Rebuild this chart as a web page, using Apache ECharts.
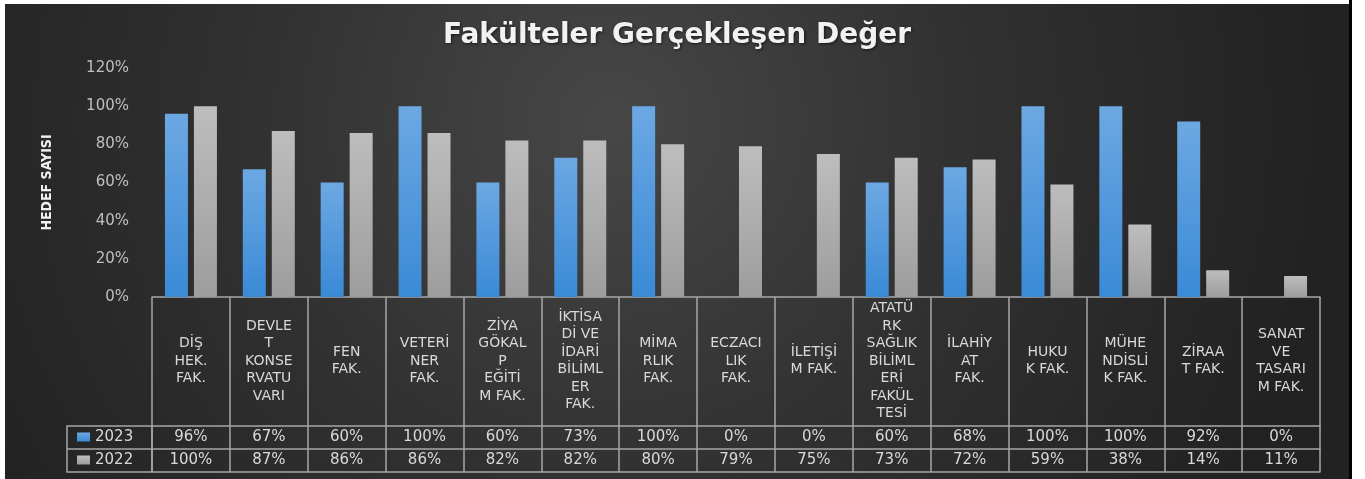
<!DOCTYPE html>
<html>
<head>
<meta charset="utf-8">
<script src="https://cdn.jsdelivr.net/npm/echarts@6/dist/echarts.min.js"></script>
<style>
    html, body { margin: 0; padding: 0; background: #fff; }
    #chart_box { position: absolute; left: 5px; top: 4px; width: 1344px; height: 475px; }
    #frame_right { position: absolute; left: 1349px; top: 0; width: 3px; height: 479px; background: #000; }
</style>
</head>
<body>
<div id="chart_box"></div>
<div id="frame_right"></div>
<script>
// fakülte adları (resimdeki satır kırılımlarıyla)
var categories = [
    'DİŞ\nHEK.\nFAK.',
    'DEVLE\nT\nKONSE\nRVATU\nVARI',
    'FEN\nFAK.',
    'VETERİ\nNER\nFAK.',
    'ZİYA\nGÖKAL\nP\nEĞİTİ\nM FAK.',
    'İKTİSA\nDİ VE\nİDARİ\nBİLİML\nER\nFAK.',
    'MİMA\nRLIK\nFAK.',
    'ECZACI\nLIK\nFAK.',
    'İLETİŞİ\nM FAK.',
    'ATATÜ\nRK\nSAĞLIK\nBİLİML\nERİ\nFAKÜL\nTESİ',
    'İLAHİY\nAT\nFAK.',
    'HUKU\nK FAK.',
    'MÜHE\nNDİSLİ\nK FAK.',
    'ZİRAA\nT FAK.',
    'SANAT\nVE\nTASARI\nM FAK.'
];
var values_2023 = [96, 67, 60, 100, 60, 73, 100, 0, 0, 60, 68, 100, 100, 92, 0];
var values_2022 = [100, 87, 86, 86, 82, 82, 80, 79, 75, 73, 72, 59, 38, 14, 11];
var y_ticks = [0, 20, 40, 60, 80, 100, 120];

var line_color = '#a6a6a6';
var text_color = '#d9d9d9';
var font = "'DejaVu Sans', sans-serif";

function pct(v){
    return v + '%';
}

// tablo satırları için ek x eksenleri
function table_row(labels, offset, tick_len, show_labels){
    return {
        type: 'category',
        position: 'bottom',
        offset: offset,
        data: labels,
        axisLine: { show: true, lineStyle: { color: line_color, width: 1.5 } },
        axisTick: { show: tick_len > 0, length: tick_len, lineStyle: { color: line_color, width: 1.5 } },
        axisLabel: {
            show: show_labels,
            interval: 0,
            margin: 11.5,
            verticalAlign: 'middle',
            color: text_color,
            fontSize: 15,
            fontFamily: font
        },
        splitLine: { show: false }
    };
}

var chart = echarts.init(document.getElementById('chart_box'));
var option = {};

option['backgroundColor'] = {
    type: 'radial', x: 0.45, y: 0.25, r: 1.5,
    colorStops: [
        { offset: 0, color: '#474747' },
        { offset: 0.5, color: '#313131' },
        { offset: 1, color: '#222222' }
    ]
};

option['title'] = {
    text: 'Fakülteler Gerçekleşen Değer',
    left: 'center',
    top: 13,
    textStyle: {
        color: '#f2f2f2',
        fontSize: 28,
        fontWeight: 'bold',
        fontFamily: font,
        textShadowColor: 'rgba(0,0,0,0.6)',
        textShadowBlur: 3,
        textShadowOffsetX: 1,
        textShadowOffsetY: 1
    }
};

option['legend'] = {
    data: ['2023', '2022'],
    orient: 'vertical',
    left: 72,
    top: 424,
    padding: 0,
    itemGap: 5,
    itemWidth: 13,
    itemHeight: 9,
    icon: 'rect',
    textStyle: { color: text_color, fontSize: 15, lineHeight: 18, fontFamily: font }
};

option['grid'] = {
    left: 147,
    right: 29,
    top: 64,
    bottom: 182,
    containLabel: false
};

option['xAxis'] = [
    {
        type: 'category',
        data: categories,
        axisLine: { show: true, lineStyle: { color: line_color, width: 1.5 } },
        axisTick: { show: true, length: 129, lineStyle: { color: line_color, width: 1.5 } },
        axisLabel: {
            interval: 0,
            margin: 64,
            verticalAlign: 'middle',
            align: 'center',
            color: text_color,
            fontSize: 14,
            lineHeight: 17.5,
            fontFamily: font
        }
    },
    table_row(values_2023.map(pct), 129, 23, true),
    table_row(values_2022.map(pct), 152, 23, true),
    table_row(values_2022.map(pct), 175, 0, false)
];

option['yAxis'] = {
    type: 'value',
    min: y_ticks[0],
    max: y_ticks[y_ticks.length - 1],
    interval: y_ticks[1] - y_ticks[0],
    name: 'HEDEF SAYISI',
    nameLocation: 'middle',
    nameGap: 98,
    nameTextStyle: {
        color: '#f0f0f0',
        fontSize: 14,
        fontWeight: 'bold',
        fontFamily: "'DejaVu Sans Condensed', 'Liberation Sans Narrow', sans-serif"
    },
    axisLine: { show: false },
    axisTick: { show: false },
    splitLine: { show: false },
    axisLabel: {
        margin: 23,
        color: '#bfbfbf',
        fontSize: 15,
        fontFamily: font,
        formatter: '{value}%'
    }
};

option['series'] = [
    {
        name: '2023',
        type: 'bar',
        data: values_2023,
        barWidth: 23,
        barGap: '26%',
        itemStyle: {
            color: new echarts.graphic.LinearGradient(0, 0, 0, 1, [
                { offset: 0, color: '#6ca8e3' },
                { offset: 1, color: '#3a8ad6' }
            ]),
            shadowColor: 'rgba(0,0,0,0.55)',
            shadowBlur: 5,
            shadowOffsetX: -1
        }
    },
    {
        name: '2022',
        type: 'bar',
        data: values_2022,
        barWidth: 23,
        barGap: '26%',
        itemStyle: {
            color: new echarts.graphic.LinearGradient(0, 0, 0, 1, [
                { offset: 0, color: '#bdbdbd' },
                { offset: 1, color: '#9d9d9d' }
            ]),
            shadowColor: 'rgba(0,0,0,0.55)',
            shadowBlur: 5,
            shadowOffsetX: -1
        }
    }
];

// lejant hücrelerinin çerçevesi
option['graphic'] = [
    {
        type: 'rect',
        shape: { x: 62, y: 422, width: 85, height: 46 },
        style: { fill: 'none', stroke: line_color, lineWidth: 1.5 }
    },
    {
        type: 'line',
        shape: { x1: 62, y1: 445, x2: 147, y2: 445 },
        style: { stroke: line_color, lineWidth: 1.5 }
    }
];

option && chart.setOption(option);
</script>
</body>
</html>
